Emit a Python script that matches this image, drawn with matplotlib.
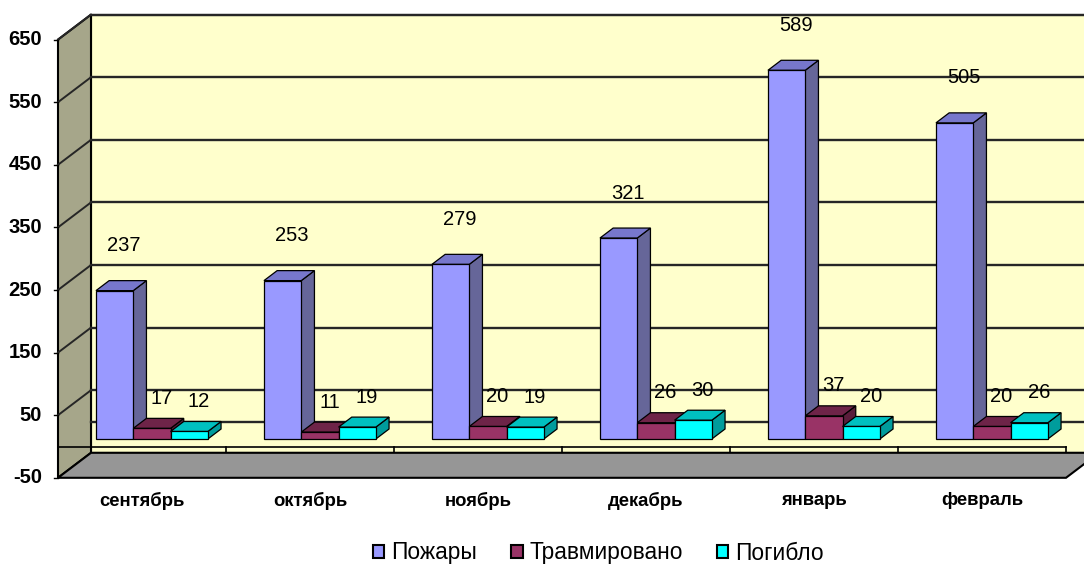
import numpy as np
import matplotlib
matplotlib.use("Agg")
import matplotlib.pyplot as plt
from matplotlib.patches import Polygon, Patch

plt.rcParams['font.family'] = ['Liberation Sans', 'DejaVu Sans']

months = ['сентябрь', 'октябрь', 'ноябрь', 'декабрь', 'январь', 'февраль']
series = ['Пожары', 'Травмировано', 'Погибло']
fires = [237, 253, 279, 321, 589, 505]
injured = [17, 11, 20, 26, 37, 20]
dead = [12, 19, 19, 30, 20, 26]
yticks = [650, 550, 450, 350, 250, 150, 50, -50]

# colours: front, top, side
colors = [('#9999FF', '#7777CC', '#666699'),
          ('#993366', '#6E2448', '#5A1D3B'),
          ('#00FFFF', '#00C0C0', '#009C9C')]

# layout in pixels (figure 1084 x 564 @ 100 dpi)
W, H, DPI = 1084, 564, 100
X0, CW = 58, 168.0      # px of category 0, px per category
Y0, VS = 446.5, 0.626   # px of value 0, px per value unit
DX = 33 / CW            # depth shift in category units
DY = 25 / VS            # depth shift in value units
VMIN, VMAX = -50, 650

fig = plt.figure(figsize=(W / DPI, H / DPI), dpi=DPI)
ax = fig.add_axes([0, 0, 1, 1])
ax.set_xlim(-X0 / CW, (W - X0) / CW)
ax.set_ylim((Y0 - H) / VS, Y0 / VS)
ax.axis('off')


def P(c, v, d):
    return (c + d * DX, v + d * DY)


def poly(pts, fc, ec='black', lw=0.9, z=1):
    ax.add_patch(Polygon([P(*p) for p in pts], closed=True, facecolor=fc,
                         edgecolor=ec, linewidth=lw, zorder=z))


n = len(months)
# walls and floor
poly([(0, VMIN, 1), (n, VMIN, 1), (n, VMAX, 1), (0, VMAX, 1)], '#FFFFCC', lw=1.5)
poly([(0, VMIN, 0), (0, VMAX, 0), (0, VMAX, 1), (0, VMIN, 1)], '#A6A68A', lw=1.5)
poly([(0, VMIN, 0), (n, VMIN, 0), (n, VMIN, 1), (0, VMIN, 1)], '#969696', lw=1.5)

# gridlines on back and left wall
grid = '#262626'
for v in yticks[:-1] + [0]:
    xs, ys = zip(P(0, v, 1), P(n, v, 1))
    ax.plot(xs, ys, color=grid, lw=1.7, zorder=2)
for v in yticks[:-1]:
    xs, ys = zip(P(0, v, 0), P(0, v, 1))
    ax.plot(xs, ys, color=grid, lw=1.4, zorder=2)

# value axis ticks and labels
for v in yticks:
    ax.plot([-4 / CW, 0], [v, v], color='black', lw=1.0, zorder=2)
    ax.text(-16 / CW, v, str(v), ha='right', va='center', fontsize=14.5,
            fontweight='bold', zorder=5)

# category axis line at 0 with ticks
ax.plot([0, n], [0, 0], color='black', lw=1.2, zorder=2)
for i in range(n + 1):
    ax.plot([i, i], [0, -9], color='black', lw=1.2, zorder=2)
for i, m in enumerate(months):
    ax.text(i + 0.5, -87, m, ha='center', va='center', fontsize=13.3,
            fontweight='bold', zorder=5)

# 3-D bars
w = 0.222
d0, d1 = 0.3, 0.7
label_pad = [40, 25, 25]  # px above bar top (mid depth)
data = [fires, injured, dead]
for i in range(n):
    for j, vals in enumerate(data):
        v = vals[i]
        xl = i + 0.5 - 1.5 * w + j * w
        xr = xl + w
        fc, tc, sc = colors[j]
        z = 3 + i * 0.1 + j * 0.01
        poly([(xr, 0, d0), (xr, v, d0), (xr, v, d1), (xr, 0, d1)], sc, z=z)
        poly([(xl, v, d0), (xr, v, d0), (xr, v, d1), (xl, v, d1)], tc, z=z)
        poly([(xl, 0, d0), (xr, 0, d0), (xr, v, d0), (xl, v, d0)], fc, z=z)
        cx, cy = P(xl + w / 2, v + label_pad[j] / VS, 0.5)
        ax.text(cx + 3 / CW, cy, str(v), ha='center', va='center',
                fontsize=14.5, zorder=6)

handles = [Patch(facecolor=c[0], edgecolor='black', linewidth=1.5) for c in colors]
fig.legend(handles, series, loc='center', bbox_to_anchor=(0.552, 1 - 553 / H),
           ncol=3, frameon=False, fontsize=16.4, handlelength=0.5,
           handleheight=0.5, handletextpad=0.3, columnspacing=1.5,
           borderpad=0)

fig.savefig('out.png', dpi=DPI)
